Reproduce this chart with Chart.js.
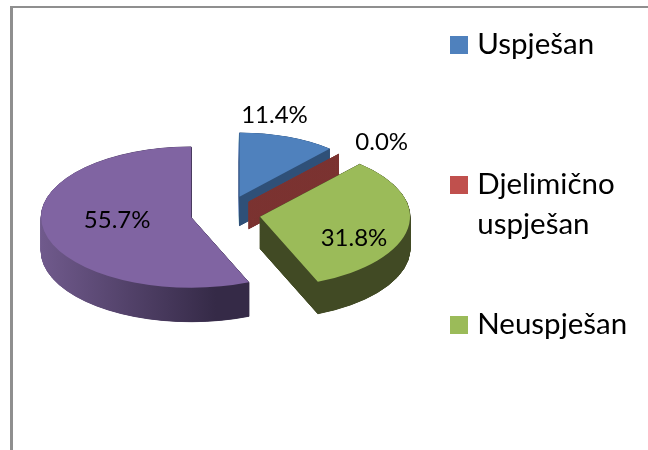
<!DOCTYPE html>
<html><head><meta charset="utf-8">
<script src="https://cdn.jsdelivr.net/npm/chart.js@4"></script>
<style>
html,body{margin:0;padding:0;background:#fff;width:648px;height:450px;overflow:hidden}
#frame{position:absolute;left:10px;top:6px;right:0;bottom:0;border-left:3px solid #8f8f8f;border-top:2px solid #8f8f8f}
canvas{position:absolute;left:0;top:0}
</style></head><body>
<div id="frame"></div>
<canvas id="c" width="648" height="450"></canvas>
<script>
const categories = ["Uspješan", "Djelimično uspješan", "Neuspješan", "Ostalo"];
const legendLines = [["Uspješan", ""], ["Djelimično", "uspješan"], ["Neuspješan", ""]];
const seriesValues = [11.4, 0.04, 31.8, 55.7];

const topColors = ["#4f81bd", "#c0504d", "#9bbb59", "#8064a2"];
const wallStops = [["#2f5078", "#2f5078"], ["#7b3230", "#7b3230"], ["#414a24", "#414a24"], ["#7a6298", "#352a47"]];
const sliceRadius = [136, 136, 150, 150];
const explodeBy = [158, 140, 140, 140];
const sliceDepth = [29, 27, 32, 34];
const labelOffsets = [[35, -81], [133, -59], [94, 22], [-74, 3]];
const tilt = 0.47, pieY = 214;

function swatch(color) {
  const c = document.createElement("canvas");
  c.width = 18; c.height = 18;
  const x = c.getContext("2d");
  x.fillStyle = color; x.fillRect(0, 0, 18, 18);
  return c;
}

const pie3d = {
  id: "pie3d",
  afterDatasetUpdate(chart) {
    chart.getDatasetMeta(0).data.forEach((a, i) => {
      const off = explodeBy[i] / 4;
      const fix = 1 - Math.sin(Math.min(Math.PI, a.circumference));
      const shrink = off * fix / Math.PI;
      a.outerRadius = sliceRadius[i] - off * fix;
      if (a.circumference * sliceRadius[i] > shrink) {
        const widen = shrink / (2 * sliceRadius[i]);
        a.startAngle -= widen;
        a.endAngle += widen;
      }
    });
  },
  afterLayout(chart) {
    const lg = chart.legend, p = lg.options.labels.padding;
    const w = lg.width, h = lg.height;
    lg.left = 455.5 - p; lg.right = lg.left + w;
    lg.top = 30 - p; lg.bottom = lg.top + h;
  },
  beforeDatasetDraw(chart) {
    const ctx = chart.ctx, arcs = chart.getDatasetMeta(0).data;
    const cy = (chart.chartArea.top + chart.chartArea.bottom) / 2;
    ctx.save();
    ctx.translate(0, pieY - cy * tilt);
    ctx.scale(1, tilt);
    [0, 1, 3, 2].forEach(i => {
      const a = arcs[i], saved = a.options;
      const g = ctx.createLinearGradient(45, 0, 250, 0);
      g.addColorStop(0, wallStops[i][0]);
      g.addColorStop(1, wallStops[i][1]);
      a.options = Object.assign({}, saved, {backgroundColor: g, borderColor: g, borderWidth: 1});
      for (let d = sliceDepth[i]; d > 0; d -= 0.25) {
        ctx.save();
        ctx.translate(0, d / tilt);
        a.draw(ctx);
        ctx.restore();
      }
      a.options = saved;
    });
  },
  afterDatasetDraw(chart) {
    const ctx = chart.ctx, arcs = chart.getDatasetMeta(0).data;
    ctx.restore();
    const cy = (chart.chartArea.top + chart.chartArea.bottom) / 2;
    ctx.save();
    ctx.font = "24px Lato";
    ctx.fillStyle = "#000";
    ctx.textAlign = "center";
    ctx.textBaseline = "middle";
    arcs.forEach((a, i) => {
      const mid = (a.startAngle + a.endAngle) / 2, off = explodeBy[i] / 4;
      const x = a.x + Math.cos(mid) * off;
      const y = pieY + (a.y + Math.sin(mid) * off - cy) * tilt;
      ctx.fillText(seriesValues[i].toFixed(1) + "%", x + labelOffsets[i][0], y + labelOffsets[i][1]);
    });
    ctx.restore();
  }
};

new Chart(document.getElementById("c"), {
  type: "pie",
  plugins: [pie3d],
  data: {
    labels: categories,
    datasets: [{
      data: seriesValues,
      backgroundColor: topColors,
      borderWidth: 0,
      offset: explodeBy,
      radius: 150,
      clip: false
    }]
  },
  options: {
    responsive: false,
    animation: false,
    layout: {padding: {left: 0, top: 0, right: 197, bottom: 0}},
    plugins: {
      tooltip: {enabled: false},
      legend: {
        position: "chartArea",
        align: "start",
        labels: {
          usePointStyle: true, pointStyleWidth: 7, boxHeight: 18, padding: 60, color: "#000",
          font: {family: "Lato", size: 29.5, lineHeight: 1.356},
          generateLabels: () => legendLines.map((t, i) => ({
            text: t, fillStyle: topColors[i], strokeStyle: topColors[i], lineWidth: 0, index: i, hidden: false,
            pointStyle: swatch(topColors[i])
          }))
        }
      }
    }
  }
});
</script>
</body></html>
